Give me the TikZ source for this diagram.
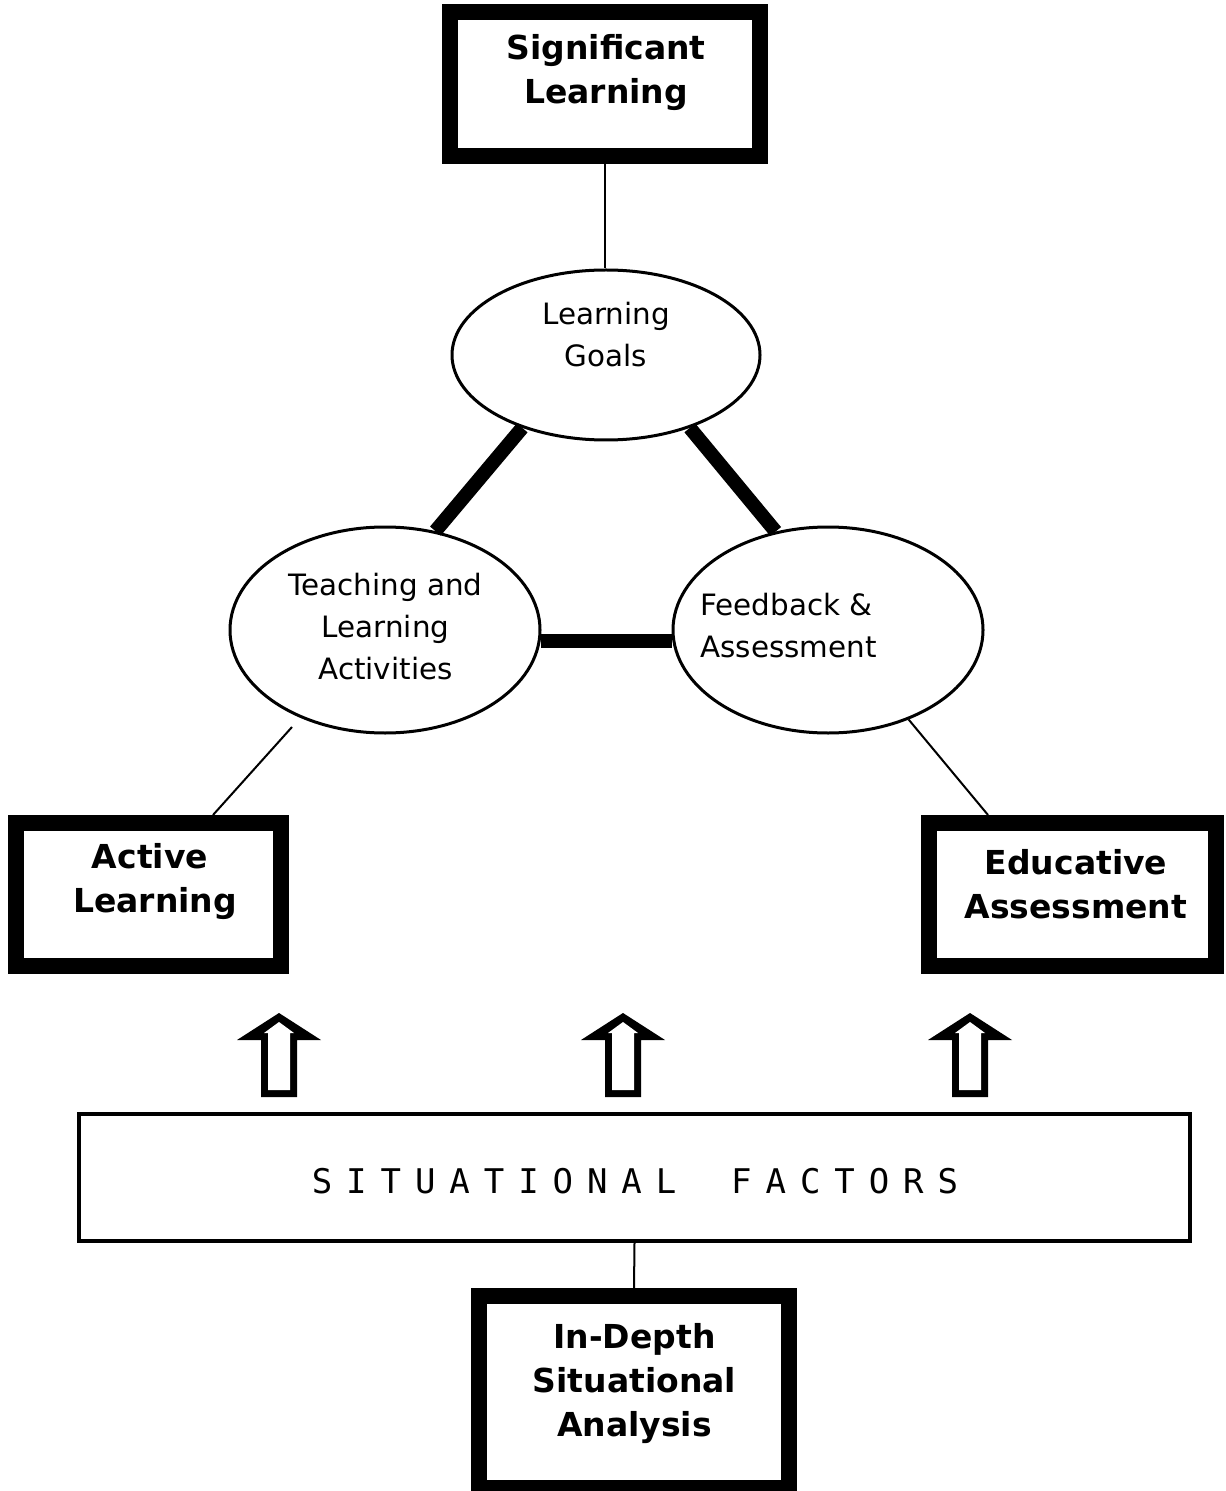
\documentclass[tikz,border=0pt]{standalone}
\usepackage{fontspec}
\setmainfont{DejaVu Sans}
\newfontfamily\monofnt{DejaVu Sans Mono}
\usetikzlibrary{shapes.geometric,calc}
\newcommand\lsp[1]{\makebox[17.2pt][c]{#1}}
\begin{document}
\begin{tikzpicture}[x=0.5pt,y=-0.5pt,
  bigbox/.style={draw, line width=8pt, rectangle, inner sep=0pt},
  boldtext/.style={inner sep=0pt, align=center, font=\fontsize{16.5pt}{22pt}\selectfont\bfseries},
  plaintext/.style={inner sep=0pt, align=center, font=\fontsize{14.7pt}{21pt}\selectfont},
  oval/.style={draw, ellipse, line width=1.5pt, inner sep=0pt},
  thickcon/.style={line width=7pt},
  thincon/.style={line width=1pt},
  uparr/.pic={
    \fill[black] (0,0) -- (42,27) -- (18,27) -- (18,84) -- (-18,84) -- (-18,27) -- (-42,27) -- cycle;
    \fill[white] (0,9) -- (15,20) -- (11,20) -- (11,77) -- (-11,77) -- (-11,20) -- (-15,20) -- cycle;
  }
]
\useasboundingbox (0,0) rectangle (1225,1491);

% boxes
\node[bigbox, minimum width=155pt, minimum height=72pt] (sig) at (605,84) {};
\node[bigbox, minimum width=132.5pt, minimum height=71.5pt] (al) at (148.5,894.5) {};
\node[bigbox, minimum width=143.5pt, minimum height=71.5pt] (ea) at (1072.5,894.5) {};
\node[bigbox, minimum width=155pt, minimum height=96pt] (ida) at (634,1392) {};
\node[draw, line width=1.75pt, inner sep=0pt, minimum width=555.5pt, minimum height=63.5pt] (sf) at (634.5,1177.5) {};

% ellipses
\node[oval, minimum width=154pt, minimum height=85pt] (lg) at (606,355) {};
\node[oval, minimum width=155pt, minimum height=103pt] (ta) at (385,630) {};
\node[oval, minimum width=155pt, minimum height=103pt] (fa) at (828,630) {};

% texts
\node[boldtext] (sigtext) at (606,72.3) {Significant\\Learning};
\node[boldtext] (altext) at (155,882) {\mbox{Active\hspace{5pt}}\\Learning};
\node[boldtext] (eatext) at (1076,884) {Educative\\Assessment};
\node[boldtext] (idatext) at (634.5,1384) {In-Depth\\Situational\\Analysis};
\node[plaintext] (lgtext) at (606,335) {Learning\\Goals};
\node[plaintext] (tatext) at (385.5,627) {Teaching and\\Learning\\Activities};
\node[plaintext, anchor=west, align=left] (fatext) at (700,626) {Feedback \&\\Assessment};
\node[inner sep=0pt, font=\monofnt\fontsize{17pt}{20pt}\selectfont] (sftext) at (635,1181)
  {\lsp{S}\lsp{I}\lsp{T}\lsp{U}\lsp{A}\lsp{T}\lsp{I}\lsp{O}\lsp{N}\lsp{A}\lsp{L}\hspace{20.5pt}\lsp{F}\lsp{A}\lsp{C}\lsp{T}\lsp{O}\lsp{R}\lsp{S}};

% connectors
\draw[thincon] (sig.south) -- (sig.south |- lg.north);
\draw[thickcon] (lg.221) -- (ta.63.7);
\draw[thickcon] (lg.319) -- (fa.118.3);
\draw[thickcon] (ta.-4) -- (fa.184);
\coordinate (tafree) at (292,727);
\draw[thincon] (tafree) -- ($(al.north)+(64.5,0)$);
\draw[thincon] (fa.-48.4) -- ($(ea.north)+(-84.5,0)$);
\draw[thincon] (sf.south) -- (ida.north);

% hollow arrows
\pic at (279,1013) {uparr};
\pic at (623,1013) {uparr};
\pic at (970,1013) {uparr};
\end{tikzpicture}
\end{document}
